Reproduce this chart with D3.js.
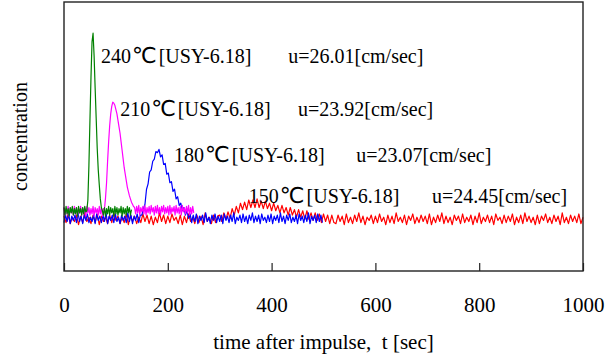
<!DOCTYPE html>
<html>
<head>
<meta charset="utf-8">
<script src="https://cdn.jsdelivr.net/npm/d3@7"></script>
<style>
html,body{margin:0;padding:0;background:#fff;}
</style>
</head>
<body>
<svg id="chart" width="605" height="358"></svg>
<script>
// ---- data ----
const xTicks = [0, 200, 400, 600, 800, 1000];
const xLabel = "time after impulse,  t [sec]";
const yLabel = "concentration";

// each series: start time, step (sec), and values
const green240 = {t0: 0, dt: 2, v: [
  9,2,10,3,8,1,9,4,10,2,8,3,9,1,10,4,8,2,9,3,10,5,
  6,16,48,90,130,163,171,150,120,92,64,44,30,17,9,6,
  2,9,1,8,3,10,2,9,4,8,1,10,3,9,2,8,4,10,1,9,3,8,2,10,4,9,2,7]};

const magenta210 = {t0: 0, dt: 2, v: [
  9,2,8,3,10,1,9,4,8,2,10,3,9,1,8,4,10,2,9,3,8,1,10,4,9,2,8,3,10,1,9,4,8,2,10,3,9,1,8,
  8,18,32,52,70,85,96,103,107,106,104,100,96,90,84,78,70,62,54,46,40,34,28,24,20,17,14,12,10,9,
  3,10,4,11,2,9,5,10,3,11,2,9,4,10,3,11,5,9,2,10,4,11,3,9,2,10,5,11,3,9,
  4,10,2,11,3,9,5,10,2,11,4,9,3,10,2,11,5,9,3,10,4,11,2,9,3,10,4]};

const blue180 = {t0: 0, dt: 3, v: [
  -5,2,-4,3,-6,1,-3,2,-5,4,-4,1,-6,2,-3,3,-5,0,-4,2,-6,3,-3,1,-5,2,-4,4,-6,1,
  -3,2,-5,3,-4,0,-6,2,-3,1,-5,4,-4,2,-6,1,-3,3,-5,2,
  2,8,12,26,31,42,44,52,54,61,60,63,56,58,49,50,40,41,32,33,24,26,17,19,11,13,6,9,2,6,-1,3,
  -5,2,-4,3,-6,1,-3,2,-5,4,-4,0,-6,2,-3,3,-5,1,-4,2,-6,3,-3,1,-5,2,-4,4,-6,0,
  -3,2,-5,3,-4,1,-6,2,-3,4,-5,1,-4,2,-6,3,-3,0,-5,2,-4,3,-6,1,-3,2,-5,4,-4,1,
  -6,2,-3,3,-5,0,-4,2,-6,3,-3,1,-5,2,-4,4,-6,1,-3,2,-5,3,-4,2,-5]};

const red150 = {t0: 0, dt: 4, v: [
  1,-5,3,-6,0,-4,2,-7,1,-5,4,-4,0,-6,2,-5,3,-7,1,-4,
  0,-6,2,-5,4,-3,1,-6,0,-5,3,-7,2,-4,1,-6,0,-5,3,-4,
  2,-6,1,-7,0,-5,4,-4,2,-6,1,-5,3,-3,0,-6,2,-7,1,-5,
  3,-4,0,-6,2,-5,1,-7,4,-4,0,-6,2,-5,1,
  2,-4,4,-2,5,-1,8,2,10,4,13,7,14,7,16,9,16,9,17,9,15,8,15,8,13,6,13,6,11,4,
  11,4,9,2,9,2,7,0,7,0,6,-2,6,-2,4,-3,4,-3,3,-5,3,-4,2,-6,2,-5,
  -6,2,-4,1,-7,3,-5,0,-6,2,-4,4,-5,1,-7,0,-3,2,-6,1,
  -5,3,-4,0,-7,2,-5,1,-6,4,-4,0,-5,2,-7,1,-3,3,-6,0,
  -5,2,-4,1,-6,3,-7,0,-5,2,-4,4,-6,1,-5,0,-7,2,-3,1,
  -6,3,-5,0,-4,2,-7,1,-5,4,-6,0,-4,2,-5,1,-7,3,-3,0,
  -6,2,-5,1,-4,3,-7,0,-5,2,-6,4,-4,1,-5,0,-7,2,-6,1,
  -3,3,-5,0,-6,2,-4,1,-7,4,-5,0,-6,2,-4,1,-5,3,-6,0]};

const series = [
  {data: red150,     color: "#ff0000"},
  {data: blue180,    color: "#0000ff"},
  {data: magenta210, color: "#ff00ff"},
  {data: green240,   color: "#008000"}
];

const labels = [
  {temp: "240", sample: "[USY-6.18]", u: "u=26.01[cm/sec]", t: 75,  c: 150, ut: 432},
  {temp: "210", sample: "[USY-6.18]", u: "u=23.92[cm/sec]", t: 112, c: 101, ut: 451},
  {temp: "180", sample: "[USY-6.18]", u: "u=23.07[cm/sec]", t: 216, c: 58,  ut: 563},
  {temp: "150", sample: "[USY-6.18]", u: "u=24.45[cm/sec]", t: 360, c: 20,  ut: 709}
];
const degC = "℃";

// ---- layout ----
const FONT = "'Liberation Serif', 'Times New Roman', Times, 'DejaVu Serif', serif";
const SANS = "'DejaVu Sans', sans-serif";
const svg = d3.select("#chart");
const L = 64, R = 583, T = 2, B = 271;
const x = d3.scaleLinear().domain([0, 1000]).range([L, R]);
const y = d3.scaleLinear().domain([-50, 200]).range([B, T]);

// series lines
const line = d3.line().x(d => x(d[0])).y(d => y(d[1]));
series.forEach(s => {
  const pts = s.data.v.map((v, i) => [s.data.t0 + i * s.data.dt, v]);
  svg.append("path").attr("d", line(pts))
    .attr("fill", "none").attr("stroke", s.color).attr("stroke-width", 1.2)
    .attr("stroke-linejoin", "round");
});

// frame
svg.append("rect").attr("x", L).attr("y", T).attr("width", R - L).attr("height", B - T)
  .attr("fill", "none").attr("stroke", "#222").attr("stroke-width", 1.4);

// x axis (ticks inward)
const xAxis = d3.axisBottom(x).tickValues(xTicks).tickSize(-8).tickPadding(0).tickFormat(d3.format("d"));
const gx = svg.append("g").attr("transform", `translate(0,${B})`).call(xAxis)
  .attr("font-family", null).attr("font-size", null);
gx.select(".domain").remove();
gx.selectAll(".tick line").attr("stroke", "#222").attr("stroke-width", 1.2);
gx.selectAll(".tick text").attr("y", 41).attr("dy", null)
  .style("font-size", "21px").style("font-family", FONT).attr("fill", "#000");

// axis titles
svg.append("text").attr("x", (L + R) / 2).attr("y", 349).attr("text-anchor", "middle")
  .style("white-space", "pre").style("font-family", FONT).style("font-size", "21px").text(xLabel);
svg.append("text").attr("transform", `translate(27,${(T + B) / 2}) rotate(-90)`)
  .attr("text-anchor", "middle").style("font-family", FONT).style("font-size", "20px").text(yLabel);

// annotations
labels.forEach(d => {
  const t = svg.append("text").attr("x", x(d.t) - 2).attr("y", y(d.c) + 7)
    .style("font-family", FONT).style("font-size", "20px");
  t.append("tspan").text(d.temp);
  t.append("tspan").attr("dx", 1).style("font-family", SANS).style("font-size", "22px").text(degC);
  t.append("tspan").attr("dx", 2).text(d.sample);
  svg.append("text").attr("x", x(d.ut)).attr("y", y(d.c) + 7)
    .style("font-family", FONT).style("font-size", "20px").text(d.u);
});
</script>
</body>
</html>
